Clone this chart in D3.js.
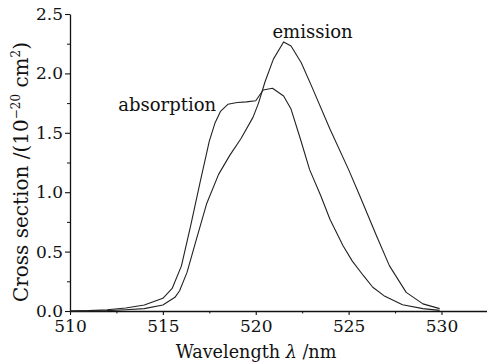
<!DOCTYPE html>
<html><head><meta charset="utf-8">
<script src="https://cdn.jsdelivr.net/npm/d3@7"></script>
<style>
body{margin:0;background:#fff;}
text{font-family:"DejaVu Serif","Liberation Serif",serif;fill:#111;}
</style></head>
<body><svg id="c" width="487" height="364"></svg>
<script>
// Absorption cross section (wavelength nm, value 1e-20 cm^2)
const absWl  = [510, 511, 512, 513, 514, 515, 515.5, 516, 516.5, 517, 517.5, 517.8, 518.1, 518.5, 519, 519.5, 520, 520.4, 520.9, 521.5, 521.9, 522.4, 522.9, 523.5, 524, 524.7, 525.2, 525.8, 526.3, 526.9, 527.9, 529, 529.9];
const absVal = [0, 0.003, 0.01, 0.025, 0.05, 0.107, 0.19, 0.38, 0.72, 1.08, 1.43, 1.58, 1.68, 1.74, 1.755, 1.76, 1.77, 1.86, 1.875, 1.81, 1.70, 1.45, 1.19, 0.97, 0.77, 0.55, 0.42, 0.297, 0.2, 0.129, 0.053, 0.02, 0.005];
// Emission cross section
const emWl  = [510, 511, 512, 513, 514, 515, 515.65, 515.9, 516.3, 516.8, 517.35, 518.0, 518.6, 519.2, 519.85, 520.15, 520.5, 520.95, 521.5, 521.9, 522.45, 523, 524, 525, 525.6, 526.5, 527.2, 528.1, 529, 529.9];
const emVal = [0, 0.001, 0.003, 0.01, 0.02, 0.05, 0.115, 0.17, 0.325, 0.6, 0.9, 1.15, 1.31, 1.45, 1.63, 1.75, 1.93, 2.12, 2.265, 2.23, 2.09, 1.895, 1.53, 1.19, 0.97, 0.633, 0.38, 0.157, 0.06, 0.02];
const xTicks = [510, 515, 520, 525, 530];
const yTicks = [0.0, 0.5, 1.0, 1.5, 2.0, 2.5];
const xMinor = [512.5, 517.5, 522.5, 527.5];
const yMinor = [0.25, 0.75, 1.25, 1.75, 2.25];
const labels = [{text:"absorption", wl:512.6, v:1.68}, {text:"emission", wl:520.9, v:2.3}];

const svg = d3.select("#c");
const x = d3.scaleLinear().domain([510, 532.45]).range([70, 487]);
const y = d3.scaleLinear().domain([0, 2.5]).range([311, 14]);

// axes
const xa = svg.append("g").attr("transform","translate(0,311)")
  .call(d3.axisBottom(x).tickValues(xTicks).tickSize(4).tickSizeOuter(0).tickFormat(d3.format("d")));
xa.select(".domain").attr("stroke","#111").attr("stroke-width",1.3);
xa.selectAll(".tick line").attr("stroke","#111").attr("stroke-width",1.1);
xa.selectAll(".tick text").attr("font-size",17).attr("dy","0.98em").attr("y",4);
svg.append("g").attr("transform","translate(0,311)")
  .call(d3.axisBottom(x).tickValues(xMinor).tickSize(2.5).tickFormat(""))
  .call(g=>g.select(".domain").remove())
  .selectAll(".tick line").attr("stroke","#111");

const ya = svg.append("g").attr("transform","translate(70,0)")
  .call(d3.axisLeft(y).tickValues(yTicks).tickSize(5).tickSizeOuter(0).tickFormat(d3.format(".1f")));
ya.select(".domain").attr("stroke","#111").attr("stroke-width",1.3);
ya.selectAll(".tick line").attr("stroke","#111").attr("stroke-width",1.1);
ya.selectAll(".tick text").attr("font-size",17).attr("x",-7);
svg.append("g").attr("transform","translate(70,0)")
  .call(d3.axisLeft(y).tickValues(yMinor).tickSize(3).tickFormat(""))
  .call(g=>g.select(".domain").remove())
  .selectAll(".tick line").attr("stroke","#111");

// curves
const line = d3.line().x(d=>x(d[0])).y(d=>y(d[1]));
svg.append("path").datum(d3.zip(absWl, absVal)).attr("d", line)
  .attr("fill","none").attr("stroke","#222").attr("stroke-width",1.1).attr("stroke-linejoin","round");
svg.append("path").datum(d3.zip(emWl, emVal)).attr("d", line)
  .attr("fill","none").attr("stroke","#222").attr("stroke-width",1.1).attr("stroke-linejoin","round");

// labels
svg.selectAll("text.lab").data(labels).join("text").attr("class","lab")
  .attr("x",d=>x(d.wl)).attr("y",d=>y(d.v)).attr("font-size",18).text(d=>d.text);

// axis titles
const xt = svg.append("text").attr("x",256).attr("y",358).attr("text-anchor","middle").attr("font-size",17.6);
xt.append("tspan").text("Wavelength ");
xt.append("tspan").attr("font-style","italic").text("λ");
xt.append("tspan").text(" /nm");
const yt = svg.append("text").attr("transform","translate(28,172) rotate(-90)").attr("text-anchor","middle").attr("font-size",20);
yt.append("tspan").text("Cross section /(10");
yt.append("tspan").attr("font-size",12).attr("dy",-8).text("−20");
yt.append("tspan").attr("dy",8).text(" cm");
yt.append("tspan").attr("font-size",12).attr("dy",-8).text("2");
yt.append("tspan").attr("dy",8).text(")");
</script></body></html>
